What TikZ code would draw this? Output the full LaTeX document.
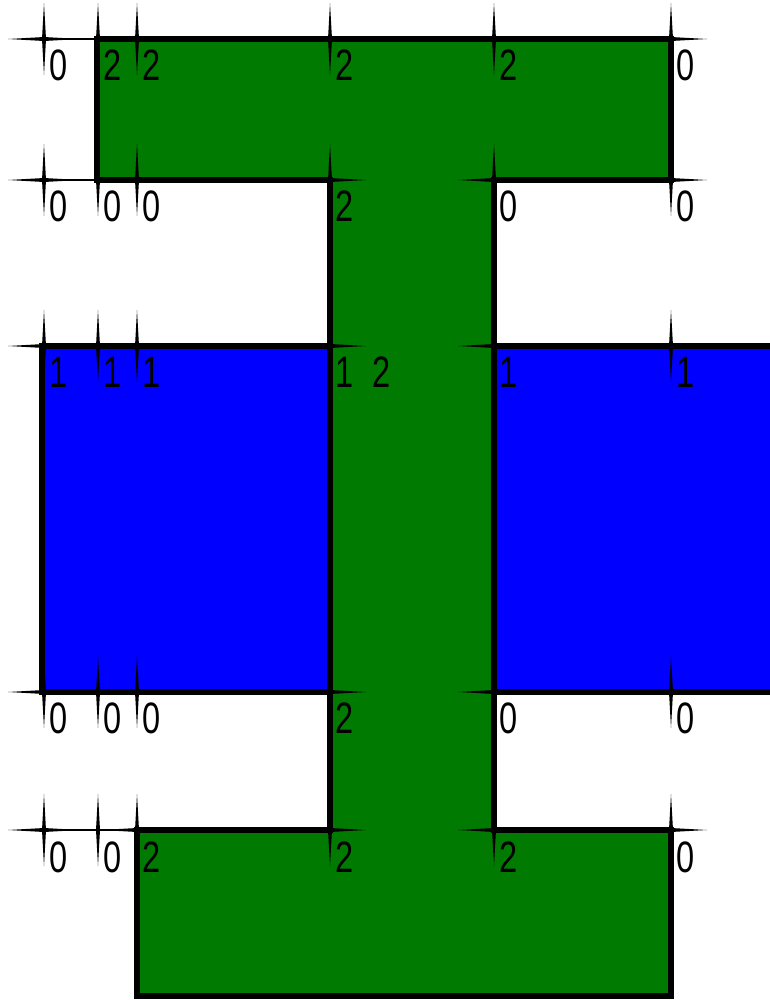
\documentclass[tikz,border=0pt]{standalone}
\usepackage{fontspec}
\newfontfamily\countfont[FakeStretch=0.74]{Liberation Sans}
\definecolor{regiongreen}{RGB}{0,122,0}
\definecolor{regionblue}{RGB}{0,0,255}
\tikzset{
    outline/.style={draw=black, line width=4.5pt, line join=miter},
    count/.style={anchor=north west, inner sep=0pt, font=\countfont\fontsize{33}{33}\selectfont},
    sweep/.style={black, line width=0.8pt}
}
% spikes of the sweep events
\newcommand{\vspike}[2]{\fill[black] (#1,#2-36) -- (#1+2,#2) -- (#1,#2+36) -- (#1-2,#2) -- cycle;}
\newcommand{\hspike}[2]{\fill[black] (#1-36,#2) -- (#1,#2-2) -- (#1+36,#2) -- (#1,#2+2) -- cycle;}

\begin{document}
\begin{tikzpicture}[x=0.75pt, y=-0.75pt]
    \useasboundingbox (0,0) rectangle (770,1000);

    % --- Regions ---
    \filldraw[outline, fill=regionblue] (42,346) rectangle (330,692);
    \fill[regionblue] (494,346) rectangle (775,692);
    \draw[outline] (775,346) -- (494,346) -- (494,692) -- (775,692);
    \filldraw[outline, fill=regiongreen] (97,39) -- (671,39) -- (671,180) -- (494,180) -- (494,830)
        -- (671,830) -- (671,996) -- (137,996) -- (137,830) -- (330,830) -- (330,180) -- (97,180) -- cycle;

    % --- Sweep lines ---
    \draw[sweep] (44,39) -- (97,39);
    \draw[sweep] (44,180) -- (97,180);
    \draw[sweep] (44,830) -- (137,830);

    \foreach \row in {39,180,346,692,830}
    {
        \foreach \col in {44,98,137,330,494,671}
        {
            \vspike{\col}{\row}
        }
        \hspike{44}{\row}
    }
    \foreach \col/\row in {671/39,330/180,494/180,671/180,330/346,494/346,330/692,494/692,137/830,330/830,494/830,671/830}
    {
        \hspike{\col}{\row}
    }

    % --- Winding counts ---
    \foreach \col/\lbl in {44/0,98/2,137/2,330/2,494/2,671/0}
        \node[count] (a\col) at (\col+5,50) {\lbl};
    \foreach \col/\lbl in {44/0,98/0,137/0,330/2,494/0,671/0}
        \node[count] (b\col) at (\col+5,191) {\lbl};
    \foreach \col/\lbl in {44/1,98/1,137/1,330/1,494/1,671/1}
        \node[count] (c\col) at (\col+5,357) {\lbl};
    \node[count] (cmid) at (372,357) {2};
    \foreach \col/\lbl in {44/0,98/0,137/0,330/2,494/0,671/0}
        \node[count] (d\col) at (\col+5,703) {\lbl};
    \foreach \col/\lbl in {44/0,98/0,137/2,330/2,494/2,671/0}
        \node[count] (e\col) at (\col+5,841) {\lbl};
\end{tikzpicture}
\end{document}
